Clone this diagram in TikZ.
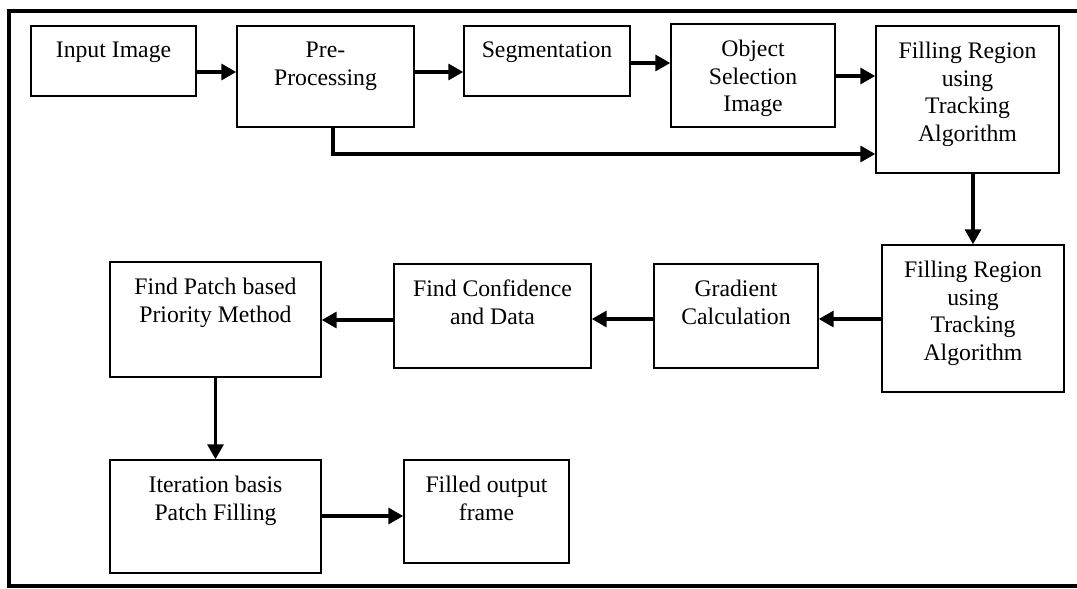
\documentclass[tikz,border=0pt]{standalone}
\usepackage{fontspec}
\setmainfont{Liberation Serif}
\usetikzlibrary{arrows.meta}

\begin{document}
\begin{tikzpicture}[x=0.02cm, y=-0.02cm,
    box/.style={draw, line width=0.8pt, inner sep=0pt},
    txt/.style={anchor=north, align=center, inner sep=0pt, yshift=-9.3pt, font=\fontsize{13.5}{15.8}\selectfont},
    arr/.style={line width=2pt, -{Triangle[length=8.5pt, width=9pt]}}]

    \useasboundingbox (0,0) rectangle (1077,588);

    % outer frame, open on the right
    \draw[line width=2.2pt] (1090,11) -- (9,11) -- (9,586) -- (1090,586);

            % top row
            \node[box, minimum width=3.3cm, minimum height=1.4cm] (inp) at (113.5,61) {};
            \node[box, minimum width=3.54cm, minimum height=2.02cm] (pre) at (325.5,76.5) {};
            \node[box, minimum width=3.32cm, minimum height=1.4cm] (seg) at (547,61) {};
            \node[box, minimum width=3.28cm, minimum height=2.06cm] (obj) at (753,75.5) {};
            \node[box, minimum width=3.66cm, minimum height=2.94cm] (fillA) at (967.5,99.5) {};

            % middle row
            \node[box, minimum width=3.64cm, minimum height=2.94cm] (fillB) at (973,318.5) {};
            \node[box, minimum width=3.28cm, minimum height=2.08cm] (grad) at (736,316) {};
            \node[box, minimum width=3.94cm, minimum height=2.08cm] (conf) at (492.5,316) {};
            \node[box, minimum width=4.22cm, minimum height=2.3cm] (patch) at (215.5,319.5) {};

            % bottom row
            \node[box, minimum width=4.22cm, minimum height=2.26cm] (iter) at (215.5,516.5) {};
            \node[box, minimum width=3.3cm, minimum height=2.06cm] (out) at (486.5,511.5) {};

    % box texts
    \node[txt] (inpT) at (inp.north) {Input Image};
    \node[txt] (preT) at (pre.north) {Pre-\\Processing};
    \node[txt] (segT) at (seg.north) {Segmentation};
    \node[txt] (objT) at (obj.north) {Object\\Selection\\Image};
    \node[txt] (fillAT) at (fillA.north) {Filling Region\\using\\Tracking\\Algorithm};
    \node[txt] (fillBT) at (fillB.north) {Filling Region\\using\\Tracking\\Algorithm};
    \node[txt] (gradT) at (grad.north) {Gradient\\Calculation};
    \node[txt] (confT) at (conf.north) {Find Confidence\\and Data};
    \node[txt] (patchT) at (patch.north) {Find Patch based\\Priority Method};
    \node[txt] (iterT) at (iter.north) {Iteration basis\\Patch Filling};
    \node[txt] (outT) at (out.north) {Filled output\\frame};

    % connectors
    \draw[arr] (inp.east |- 0,72) -- (pre.west |- 0,72);
    \draw[arr] (pre.east |- 0,72) -- (seg.west |- 0,72);
    \draw[arr] (seg.east |- 0,63) -- (obj.west |- 0,63);
    \draw[arr] (obj.east |- 0,76) -- (fillA.west |- 0,76);
    \draw[arr] (pre.south -| 333,0) -- (333,154) -- (fillA.west |- 0,154);
    \draw[arr] (fillA.south -| 973,0) -- (fillB.north -| 973,0);
    \draw[arr] (fillB.west |- 0,319) -- (grad.east |- 0,319);
    \draw[arr] (grad.west |- 0,319) -- (conf.east |- 0,319);
    \draw[arr] (conf.west |- 0,320) -- (patch.east |- 0,320);
    \draw[arr] (patch.south) -- (iter.north);
    \draw[arr] (iter.east |- 0,516) -- (out.west |- 0,516);

\end{tikzpicture}
\end{document}
